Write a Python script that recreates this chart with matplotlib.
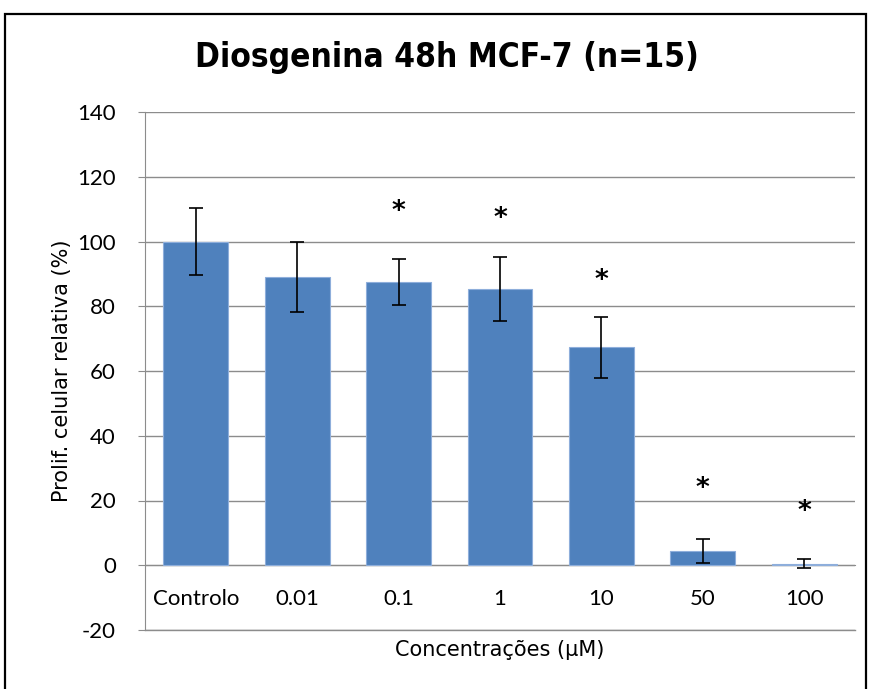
import matplotlib.pyplot as plt
import numpy as np
from matplotlib.patches import Rectangle

# data
categorias = ["Controlo", "0.01", "0.1", "1", "10", "50", "100"]
proliferacao = [100.0, 89.1, 87.6, 85.4, 67.3, 4.4, 0.4]
erro = [10.4, 10.9, 7.1, 9.9, 9.4, 3.7, 1.4]
asterisco_y = [None, None, 109.2, 106.9, 87.9, 23.7, 16.3]
y_ticks = [-20, 0, 20, 40, 60, 80, 100, 120, 140]

plt.rcParams["axes.unicode_minus"] = False

W, H = 869, 689
fig = plt.figure(figsize=(W / 100, H / 100), dpi=100)

# moldura do grafico
fig.patches.append(Rectangle((5 / W, -0.01), 861 / W, (H - 14) / H + 0.01,
                             transform=fig.transFigure, fill=False,
                             edgecolor="black", linewidth=1.6))

ax = fig.add_axes([145 / W, 59 / H, 710 / W, 518 / H])
x = np.arange(len(categorias))

ax.bar(x, proliferacao, width=0.64, color="#4F81BD", edgecolor="#8EAEDB",
       linewidth=0.8, zorder=3)
ax.errorbar(x, proliferacao, yerr=erro, fmt="none", ecolor="black",
            elinewidth=1.2, capsize=5, capthick=1.2, zorder=4)

for xi, yi in zip(x, asterisco_y):
    if yi is not None:
        ax.text(xi, yi, "*", ha="center", va="center", fontsize=19,
                fontweight="heavy", family="DejaVu Sans")

ax.set_xlim(-0.5, len(categorias) - 0.5)
ax.set_ylim(-20, 140)
ax.yaxis.grid(True, color="#8C8C8C", linewidth=1, zorder=0)
ax.axhline(-20, color="#8C8C8C", linewidth=1, clip_on=False, zorder=0)
ax.set_axisbelow(True)

for s in ["top", "right"]:
    ax.spines[s].set_visible(False)
ax.spines["left"].set_color("#8C8C8C")
ax.spines["bottom"].set_position(("data", 0))
ax.spines["bottom"].set_color("#8C8C8C")

ax.set_xticks(x, categorias, fontsize=16, fontfamily="Lato")
ax.set_yticks(y_ticks, [str(v) for v in y_ticks], fontsize=16, fontfamily="Lato")
ax.tick_params(axis="x", length=0, pad=17)
ax.tick_params(axis="y", length=5, color="#8C8C8C", pad=16)

ax.set_ylabel("Prolif. celular relativa (%)", fontsize=15, labelpad=4)
fig.text(500 / W, 1 - 650 / H, "Concentrações (µM)", ha="center", va="center",
         fontsize=15)
fig.text(447 / W, 1 - 58 / H, "Diosgenina 48h MCF-7 (n=15)", ha="center",
         va="center", fontsize=24, fontweight="bold", fontstretch="condensed")

fig.savefig("out.png", dpi=100)
